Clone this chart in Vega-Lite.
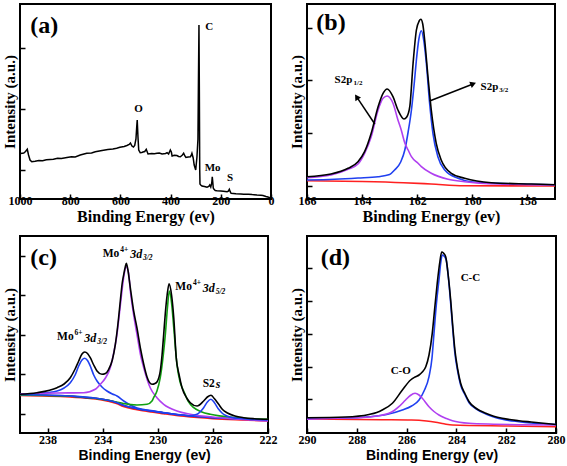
{
"$schema": "https://vega.github.io/schema/vega-lite/v6.json",
"background": "white",
"padding": {"left": 1, "top": 3, "right": 0, "bottom": 0},
"columns": 2,
"spacing": {"row": 10, "column": 10},
"config": {
  "view": {"stroke": "#000", "strokeWidth": 2},
  "axis": {"domain": false, "grid": false, "tickSize": -5, "tickWidth": 1.5, "tickColor": "#000", "format": "d",
    "labelFont": "Liberation Serif", "labelFontWeight": "bold", "labelFontSize": 12, "labelColor": "#000",
    "labelFlush": false, "labelOverlap": false, "labelPadding": 1,
    "titleFont": "Liberation Serif", "titleFontWeight": "bold", "titleFontSize": 15, "titleColor": "#000"},
  "axisX": {"titleFontSize": 16, "titlePadding": 2},
  "axisY": {"titlePadding": 2}
},
"datasets": {
"curves": [
{"p":"a","s":"Survey","x":998,"y":45.5},{"p":"a","s":"Survey","x":985,"y":46},{"p":"a","s":"Survey","x":978,"y":47.5},{"p":"a","s":"Survey","x":971,"y":49.7},{"p":"a","s":"Survey","x":966,"y":44},{"p":"a","s":"Survey","x":960,"y":39},{"p":"a","s":"Survey","x":953,"y":37.3},{"p":"a","s":"Survey","x":940,"y":37.8},{"p":"a","s":"Survey","x":925,"y":38.5},{"p":"a","s":"Survey","x":910,"y":38.2},{"p":"a","s":"Survey","x":895,"y":39.2},{"p":"a","s":"Survey","x":880,"y":39.5},{"p":"a","s":"Survey","x":867,"y":39.7},{"p":"a","s":"Survey","x":850,"y":40.8},{"p":"a","s":"Survey","x":835,"y":40.5},{"p":"a","s":"Survey","x":813,"y":41.5},{"p":"a","s":"Survey","x":795,"y":42.3},{"p":"a","s":"Survey","x":780,"y":42},{"p":"a","s":"Survey","x":760,"y":44},{"p":"a","s":"Survey","x":734,"y":45.7},{"p":"a","s":"Survey","x":715,"y":46},{"p":"a","s":"Survey","x":700,"y":47.2},{"p":"a","s":"Survey","x":673,"y":48.5},{"p":"a","s":"Survey","x":650,"y":49.5},{"p":"a","s":"Survey","x":630,"y":50},{"p":"a","s":"Survey","x":615,"y":50.8},{"p":"a","s":"Survey","x":602,"y":51.7},{"p":"a","s":"Survey","x":585,"y":52.5},{"p":"a","s":"Survey","x":574,"y":53.5},{"p":"a","s":"Survey","x":565,"y":54.5},{"p":"a","s":"Survey","x":560,"y":56},{"p":"a","s":"Survey","x":554,"y":53},{"p":"a","s":"Survey","x":548,"y":52},{"p":"a","s":"Survey","x":543,"y":53.5},{"p":"a","s":"Survey","x":538,"y":60},{"p":"a","s":"Survey","x":535,"y":72},{"p":"a","s":"Survey","x":533,"y":79},{"p":"a","s":"Survey","x":530,"y":62},{"p":"a","s":"Survey","x":527,"y":49},{"p":"a","s":"Survey","x":521,"y":46.3},{"p":"a","s":"Survey","x":515,"y":46.5},{"p":"a","s":"Survey","x":510,"y":47},{"p":"a","s":"Survey","x":503,"y":47.5},{"p":"a","s":"Survey","x":497,"y":49.7},{"p":"a","s":"Survey","x":490,"y":45},{"p":"a","s":"Survey","x":475,"y":45.5},{"p":"a","s":"Survey","x":465,"y":45.2},{"p":"a","s":"Survey","x":454,"y":45.7},{"p":"a","s":"Survey","x":445,"y":46},{"p":"a","s":"Survey","x":434,"y":45},{"p":"a","s":"Survey","x":420,"y":45.5},{"p":"a","s":"Survey","x":414,"y":46.3},{"p":"a","s":"Survey","x":408,"y":45},{"p":"a","s":"Survey","x":401,"y":49},{"p":"a","s":"Survey","x":397,"y":47},{"p":"a","s":"Survey","x":394,"y":43},{"p":"a","s":"Survey","x":385,"y":43.7},{"p":"a","s":"Survey","x":375,"y":43.5},{"p":"a","s":"Survey","x":368,"y":42.5},{"p":"a","s":"Survey","x":361,"y":42.3},{"p":"a","s":"Survey","x":353,"y":44},{"p":"a","s":"Survey","x":348,"y":45.7},{"p":"a","s":"Survey","x":343,"y":43},{"p":"a","s":"Survey","x":339,"y":41.5},{"p":"a","s":"Survey","x":330,"y":42},{"p":"a","s":"Survey","x":321,"y":42.3},{"p":"a","s":"Survey","x":318,"y":43.5},{"p":"a","s":"Survey","x":315,"y":45.7},{"p":"a","s":"Survey","x":310,"y":41},{"p":"a","s":"Survey","x":306,"y":34},{"p":"a","s":"Survey","x":300,"y":29},{"p":"a","s":"Survey","x":295,"y":42},{"p":"a","s":"Survey","x":291,"y":60},{"p":"a","s":"Survey","x":289,"y":120},{"p":"a","s":"Survey","x":287,"y":174},{"p":"a","s":"Survey","x":285.5,"y":110},{"p":"a","s":"Survey","x":284,"y":30},{"p":"a","s":"Survey","x":283,"y":15},{"p":"a","s":"Survey","x":280,"y":14},{"p":"a","s":"Survey","x":275,"y":13},{"p":"a","s":"Survey","x":265,"y":12.5},{"p":"a","s":"Survey","x":255,"y":11.7},{"p":"a","s":"Survey","x":248,"y":12.5},{"p":"a","s":"Survey","x":244,"y":14},{"p":"a","s":"Survey","x":240,"y":12},{"p":"a","s":"Survey","x":236,"y":16},{"p":"a","s":"Survey","x":234,"y":22.3},{"p":"a","s":"Survey","x":232,"y":17},{"p":"a","s":"Survey","x":230,"y":11},{"p":"a","s":"Survey","x":227,"y":9.7},{"p":"a","s":"Survey","x":222,"y":8.5},{"p":"a","s":"Survey","x":215,"y":8.3},{"p":"a","s":"Survey","x":200,"y":8},{"p":"a","s":"Survey","x":190,"y":7.8},{"p":"a","s":"Survey","x":175,"y":7.3},{"p":"a","s":"Survey","x":170,"y":7.8},{"p":"a","s":"Survey","x":166,"y":9.7},{"p":"a","s":"Survey","x":162,"y":7},{"p":"a","s":"Survey","x":159,"y":5.7},{"p":"a","s":"Survey","x":150,"y":5.5},{"p":"a","s":"Survey","x":140,"y":5.2},{"p":"a","s":"Survey","x":120,"y":5},{"p":"a","s":"Survey","x":109,"y":4.7},{"p":"a","s":"Survey","x":90,"y":4.8},{"p":"a","s":"Survey","x":75,"y":4.4},{"p":"a","s":"Survey","x":56,"y":4},{"p":"a","s":"Survey","x":40,"y":3.8},{"p":"a","s":"Survey","x":32,"y":3.5},{"p":"a","s":"Survey","x":20,"y":2.5},{"p":"a","s":"Survey","x":9,"y":1.7},{"p":"a","s":"Survey","x":3,"y":1.5},

{"p":"b","s":"Background","x":166,"y":18.3},{"p":"b","s":"Background","x":164,"y":17.5},{"p":"b","s":"Background","x":162.5,"y":16.3},{"p":"b","s":"Background","x":161.5,"y":15},{"p":"b","s":"Background","x":160.3,"y":13.3},{"p":"b","s":"Background","x":157,"y":13},
{"p":"b","s":"S 2p3/2","x":166,"y":19},{"p":"b","s":"S 2p3/2","x":165,"y":19.8},{"p":"b","s":"S 2p3/2","x":164.15,"y":21},{"p":"b","s":"S 2p3/2","x":163.42,"y":22.3},{"p":"b","s":"S 2p3/2","x":163.0,"y":24.5},{"p":"b","s":"S 2p3/2","x":162.82,"y":29},{"p":"b","s":"S 2p3/2","x":162.6,"y":37},{"p":"b","s":"S 2p3/2","x":162.45,"y":49},{"p":"b","s":"S 2p3/2","x":162.33,"y":67},{"p":"b","s":"S 2p3/2","x":162.21,"y":89},{"p":"b","s":"S 2p3/2","x":162.1,"y":118},{"p":"b","s":"S 2p3/2","x":162.03,"y":139},{"p":"b","s":"S 2p3/2","x":161.94,"y":160},{"p":"b","s":"S 2p3/2","x":161.85,"y":168.3},{"p":"b","s":"S 2p3/2","x":161.76,"y":158},{"p":"b","s":"S 2p3/2","x":161.67,"y":136},{"p":"b","s":"S 2p3/2","x":161.55,"y":95.7},{"p":"b","s":"S 2p3/2","x":161.43,"y":65.7},{"p":"b","s":"S 2p3/2","x":161.25,"y":42.3},{"p":"b","s":"S 2p3/2","x":161.0,"y":29},{"p":"b","s":"S 2p3/2","x":160.52,"y":20.7},{"p":"b","s":"S 2p3/2","x":160.05,"y":17.3},{"p":"b","s":"S 2p3/2","x":159.07,"y":15.7},{"p":"b","s":"S 2p3/2","x":158,"y":14.8},{"p":"b","s":"S 2p3/2","x":157,"y":14.3},
{"p":"b","s":"S 2p1/2","x":166,"y":21.3},{"p":"b","s":"S 2p1/2","x":165.13,"y":24},{"p":"b","s":"S 2p1/2","x":164.51,"y":29.7},{"p":"b","s":"S 2p1/2","x":164.15,"y":35},{"p":"b","s":"S 2p1/2","x":163.91,"y":45.7},{"p":"b","s":"S 2p1/2","x":163.67,"y":62.3},{"p":"b","s":"S 2p1/2","x":163.42,"y":89},{"p":"b","s":"S 2p1/2","x":163.24,"y":100.7},{"p":"b","s":"S 2p1/2","x":163.09,"y":103},{"p":"b","s":"S 2p1/2","x":162.88,"y":95.7},{"p":"b","s":"S 2p1/2","x":162.7,"y":79},{"p":"b","s":"S 2p1/2","x":162.58,"y":69},{"p":"b","s":"S 2p1/2","x":162.45,"y":56},{"p":"b","s":"S 2p1/2","x":162.33,"y":49},{"p":"b","s":"S 2p1/2","x":162.21,"y":42.3},{"p":"b","s":"S 2p1/2","x":161.97,"y":35.7},{"p":"b","s":"S 2p1/2","x":161.85,"y":32.3},{"p":"b","s":"S 2p1/2","x":161.49,"y":25.7},{"p":"b","s":"S 2p1/2","x":160.88,"y":19.7},{"p":"b","s":"S 2p1/2","x":160.28,"y":17.3},{"p":"b","s":"S 2p1/2","x":159.07,"y":15},{"p":"b","s":"S 2p1/2","x":157,"y":14},
{"p":"b","s":"Envelope","x":166,"y":22.3},{"p":"b","s":"Envelope","x":165.13,"y":25},{"p":"b","s":"Envelope","x":164.51,"y":30.7},{"p":"b","s":"Envelope","x":164.15,"y":37.3},{"p":"b","s":"Envelope","x":163.91,"y":47.3},{"p":"b","s":"Envelope","x":163.67,"y":65.7},{"p":"b","s":"Envelope","x":163.42,"y":92.3},{"p":"b","s":"Envelope","x":163.24,"y":105.7},{"p":"b","s":"Envelope","x":163.09,"y":110},{"p":"b","s":"Envelope","x":162.88,"y":102.3},{"p":"b","s":"Envelope","x":162.7,"y":89},{"p":"b","s":"Envelope","x":162.48,"y":80},{"p":"b","s":"Envelope","x":162.38,"y":82},{"p":"b","s":"Envelope","x":162.27,"y":92.3},{"p":"b","s":"Envelope","x":162.15,"y":135.7},{"p":"b","s":"Envelope","x":162.03,"y":169},{"p":"b","s":"Envelope","x":161.93,"y":178},{"p":"b","s":"Envelope","x":161.87,"y":179.7},{"p":"b","s":"Envelope","x":161.8,"y":175},{"p":"b","s":"Envelope","x":161.73,"y":159},{"p":"b","s":"Envelope","x":161.61,"y":122.3},{"p":"b","s":"Envelope","x":161.49,"y":89},{"p":"b","s":"Envelope","x":161.31,"y":55.7},{"p":"b","s":"Envelope","x":161.13,"y":39},{"p":"b","s":"Envelope","x":160.76,"y":25.7},{"p":"b","s":"Envelope","x":160.28,"y":20.7},{"p":"b","s":"Envelope","x":159.31,"y":16.3},{"p":"b","s":"Envelope","x":157.86,"y":15},{"p":"b","s":"Envelope","x":157,"y":14.3},

{"p":"c","s":"Background","x":240,"y":37.5},{"p":"c","s":"Background","x":236.4,"y":36},{"p":"c","s":"Background","x":234.5,"y":34},{"p":"c","s":"Background","x":233.7,"y":32},{"p":"c","s":"Background","x":233,"y":29.5},{"p":"c","s":"Background","x":232.5,"y":26.5},{"p":"c","s":"Background","x":231.5,"y":23.3},{"p":"c","s":"Background","x":230.5,"y":21},{"p":"c","s":"Background","x":229.6,"y":19.3},{"p":"c","s":"Background","x":228.1,"y":16.7},{"p":"c","s":"Background","x":226,"y":14.3},{"p":"c","s":"Background","x":224,"y":13},{"p":"c","s":"Background","x":222,"y":12},
{"p":"c","s":"Baseline","x":240,"y":38.5},{"p":"c","s":"Baseline","x":238.8,"y":38},{"p":"c","s":"Baseline","x":236.4,"y":37},{"p":"c","s":"Baseline","x":235.4,"y":35.5},{"p":"c","s":"Baseline","x":234.5,"y":34.8},{"p":"c","s":"Baseline","x":233.7,"y":33},{"p":"c","s":"Baseline","x":233,"y":30.5},{"p":"c","s":"Baseline","x":232.5,"y":27.7},{"p":"c","s":"Baseline","x":231.5,"y":24.3},{"p":"c","s":"Baseline","x":230.5,"y":22},{"p":"c","s":"Baseline","x":229.6,"y":20.3},{"p":"c","s":"Baseline","x":228.1,"y":17.7},{"p":"c","s":"Baseline","x":226,"y":15.3},{"p":"c","s":"Baseline","x":224,"y":14},{"p":"c","s":"Baseline","x":222,"y":13},
{"p":"c","s":"Mo6+ 3d3/2","x":240,"y":38.5},{"p":"c","s":"Mo6+ 3d3/2","x":238.77,"y":39.5},{"p":"c","s":"Mo6+ 3d3/2","x":237.31,"y":42},{"p":"c","s":"Mo6+ 3d3/2","x":236.8,"y":45},{"p":"c","s":"Mo6+ 3d3/2","x":236.35,"y":50.3},{"p":"c","s":"Mo6+ 3d3/2","x":236.0,"y":58},{"p":"c","s":"Mo6+ 3d3/2","x":235.74,"y":67},{"p":"c","s":"Mo6+ 3d3/2","x":235.5,"y":73},{"p":"c","s":"Mo6+ 3d3/2","x":235.3,"y":74.7},{"p":"c","s":"Mo6+ 3d3/2","x":235.1,"y":72.5},{"p":"c","s":"Mo6+ 3d3/2","x":234.9,"y":67},{"p":"c","s":"Mo6+ 3d3/2","x":234.65,"y":58},{"p":"c","s":"Mo6+ 3d3/2","x":234.41,"y":52},{"p":"c","s":"Mo6+ 3d3/2","x":234.05,"y":46},{"p":"c","s":"Mo6+ 3d3/2","x":233.69,"y":42},{"p":"c","s":"Mo6+ 3d3/2","x":233.3,"y":39},{"p":"c","s":"Mo6+ 3d3/2","x":232.96,"y":37},{"p":"c","s":"Mo6+ 3d3/2","x":232.47,"y":32},{"p":"c","s":"Mo6+ 3d3/2","x":232.0,"y":28},{"p":"c","s":"Mo6+ 3d3/2","x":231.5,"y":25},{"p":"c","s":"Mo6+ 3d3/2","x":230.5,"y":22.4},{"p":"c","s":"Mo6+ 3d3/2","x":229.6,"y":20.5},{"p":"c","s":"Mo6+ 3d3/2","x":228.1,"y":17.7},{"p":"c","s":"Mo6+ 3d3/2","x":226,"y":15.3},{"p":"c","s":"Mo6+ 3d3/2","x":224,"y":14},{"p":"c","s":"Mo6+ 3d3/2","x":222,"y":13},
{"p":"c","s":"Mo4+ 3d3/2","x":240,"y":39},{"p":"c","s":"Mo4+ 3d3/2","x":237.31,"y":40},{"p":"c","s":"Mo4+ 3d3/2","x":235.38,"y":40.3},{"p":"c","s":"Mo4+ 3d3/2","x":234.5,"y":44},{"p":"c","s":"Mo4+ 3d3/2","x":234.17,"y":48.7},{"p":"c","s":"Mo4+ 3d3/2","x":233.8,"y":55},{"p":"c","s":"Mo4+ 3d3/2","x":233.45,"y":65.3},{"p":"c","s":"Mo4+ 3d3/2","x":233.2,"y":80},{"p":"c","s":"Mo4+ 3d3/2","x":232.96,"y":98.7},{"p":"c","s":"Mo4+ 3d3/2","x":232.78,"y":120},{"p":"c","s":"Mo4+ 3d3/2","x":232.6,"y":142},{"p":"c","s":"Mo4+ 3d3/2","x":232.45,"y":158},{"p":"c","s":"Mo4+ 3d3/2","x":232.28,"y":166},{"p":"c","s":"Mo4+ 3d3/2","x":232.12,"y":160},{"p":"c","s":"Mo4+ 3d3/2","x":231.99,"y":142},{"p":"c","s":"Mo4+ 3d3/2","x":231.75,"y":118},{"p":"c","s":"Mo4+ 3d3/2","x":231.51,"y":98.7},{"p":"c","s":"Mo4+ 3d3/2","x":231.25,"y":78},{"p":"c","s":"Mo4+ 3d3/2","x":231.02,"y":65.3},{"p":"c","s":"Mo4+ 3d3/2","x":230.54,"y":45},{"p":"c","s":"Mo4+ 3d3/2","x":230.06,"y":35.3},{"p":"c","s":"Mo4+ 3d3/2","x":229.57,"y":28.7},{"p":"c","s":"Mo4+ 3d3/2","x":228.61,"y":22},{"p":"c","s":"Mo4+ 3d3/2","x":227.64,"y":18.7},{"p":"c","s":"Mo4+ 3d3/2","x":225.46,"y":15.3},{"p":"c","s":"Mo4+ 3d3/2","x":222,"y":12},
{"p":"c","s":"Mo4+ 3d5/2","x":240,"y":38},{"p":"c","s":"Mo4+ 3d5/2","x":236,"y":36.5},{"p":"c","s":"Mo4+ 3d5/2","x":234.5,"y":34.5},{"p":"c","s":"Mo4+ 3d5/2","x":233.7,"y":33},{"p":"c","s":"Mo4+ 3d5/2","x":233,"y":31},{"p":"c","s":"Mo4+ 3d5/2","x":232.5,"y":29.5},{"p":"c","s":"Mo4+ 3d5/2","x":231.51,"y":28},{"p":"c","s":"Mo4+ 3d5/2","x":230.78,"y":28.7},{"p":"c","s":"Mo4+ 3d5/2","x":230.42,"y":32},{"p":"c","s":"Mo4+ 3d5/2","x":230.3,"y":35.3},{"p":"c","s":"Mo4+ 3d5/2","x":230.06,"y":42},{"p":"c","s":"Mo4+ 3d5/2","x":229.82,"y":55.3},{"p":"c","s":"Mo4+ 3d5/2","x":229.6,"y":78},{"p":"c","s":"Mo4+ 3d5/2","x":229.45,"y":98.7},{"p":"c","s":"Mo4+ 3d5/2","x":229.3,"y":125},{"p":"c","s":"Mo4+ 3d5/2","x":229.16,"y":142},{"p":"c","s":"Mo4+ 3d5/2","x":229.0,"y":130},{"p":"c","s":"Mo4+ 3d5/2","x":228.84,"y":105.3},{"p":"c","s":"Mo4+ 3d5/2","x":228.61,"y":68.7},{"p":"c","s":"Mo4+ 3d5/2","x":228.4,"y":52},{"p":"c","s":"Mo4+ 3d5/2","x":228.12,"y":42},{"p":"c","s":"Mo4+ 3d5/2","x":227.8,"y":32},{"p":"c","s":"Mo4+ 3d5/2","x":227.39,"y":25.3},{"p":"c","s":"Mo4+ 3d5/2","x":226.8,"y":21},{"p":"c","s":"Mo4+ 3d5/2","x":226.19,"y":18.7},{"p":"c","s":"Mo4+ 3d5/2","x":224.25,"y":15.3},{"p":"c","s":"Mo4+ 3d5/2","x":222,"y":13.7},
{"p":"c","s":"S 2s","x":240,"y":38.5},{"p":"c","s":"S 2s","x":236.4,"y":37},{"p":"c","s":"S 2s","x":234.5,"y":34.8},{"p":"c","s":"S 2s","x":233.7,"y":33},{"p":"c","s":"S 2s","x":233,"y":30.5},{"p":"c","s":"S 2s","x":232.5,"y":27.7},{"p":"c","s":"S 2s","x":231.5,"y":24.3},{"p":"c","s":"S 2s","x":230.5,"y":22},{"p":"c","s":"S 2s","x":229.6,"y":20.3},{"p":"c","s":"S 2s","x":228.1,"y":17.7},{"p":"c","s":"S 2s","x":227.64,"y":17.3},{"p":"c","s":"S 2s","x":227.15,"y":18.7},{"p":"c","s":"S 2s","x":226.9,"y":21.5},{"p":"c","s":"S 2s","x":226.67,"y":25.3},{"p":"c","s":"S 2s","x":226.4,"y":31},{"p":"c","s":"S 2s","x":226.14,"y":33.7},{"p":"c","s":"S 2s","x":225.9,"y":30.5},{"p":"c","s":"S 2s","x":225.58,"y":23.7},{"p":"c","s":"S 2s","x":225.3,"y":19.5},{"p":"c","s":"S 2s","x":224.98,"y":17},{"p":"c","s":"S 2s","x":224.25,"y":14.7},{"p":"c","s":"S 2s","x":223,"y":13.5},{"p":"c","s":"S 2s","x":222,"y":13},
{"p":"c","s":"Envelope","x":240,"y":38.7},{"p":"c","s":"Envelope","x":238.77,"y":40.3},{"p":"c","s":"Envelope","x":237.31,"y":45.3},{"p":"c","s":"Envelope","x":236.8,"y":49},{"p":"c","s":"Envelope","x":236.35,"y":55.3},{"p":"c","s":"Envelope","x":236.0,"y":64},{"p":"c","s":"Envelope","x":235.74,"y":72},{"p":"c","s":"Envelope","x":235.5,"y":79},{"p":"c","s":"Envelope","x":235.3,"y":81},{"p":"c","s":"Envelope","x":235.1,"y":79.5},{"p":"c","s":"Envelope","x":234.9,"y":75.3},{"p":"c","s":"Envelope","x":234.65,"y":68},{"p":"c","s":"Envelope","x":234.41,"y":62},{"p":"c","s":"Envelope","x":234.05,"y":58.7},{"p":"c","s":"Envelope","x":233.8,"y":59.5},{"p":"c","s":"Envelope","x":233.56,"y":63.7},{"p":"c","s":"Envelope","x":233.3,"y":73},{"p":"c","s":"Envelope","x":233.08,"y":88.7},{"p":"c","s":"Envelope","x":232.9,"y":108},{"p":"c","s":"Envelope","x":232.72,"y":132},{"p":"c","s":"Envelope","x":232.58,"y":150},{"p":"c","s":"Envelope","x":232.47,"y":158.7},{"p":"c","s":"Envelope","x":232.36,"y":166},{"p":"c","s":"Envelope","x":232.28,"y":169.7},{"p":"c","s":"Envelope","x":232.18,"y":164},{"p":"c","s":"Envelope","x":231.99,"y":145},{"p":"c","s":"Envelope","x":231.75,"y":122},{"p":"c","s":"Envelope","x":231.51,"y":105},{"p":"c","s":"Envelope","x":231.25,"y":84},{"p":"c","s":"Envelope","x":231.02,"y":68.7},{"p":"c","s":"Envelope","x":230.78,"y":56},{"p":"c","s":"Envelope","x":230.42,"y":48.7},{"p":"c","s":"Envelope","x":230.2,"y":49.5},{"p":"c","s":"Envelope","x":230.06,"y":51},{"p":"c","s":"Envelope","x":229.82,"y":62},{"p":"c","s":"Envelope","x":229.69,"y":78},{"p":"c","s":"Envelope","x":229.57,"y":98.7},{"p":"c","s":"Envelope","x":229.45,"y":120.3},{"p":"c","s":"Envelope","x":229.32,"y":138},{"p":"c","s":"Envelope","x":229.18,"y":149.3},{"p":"c","s":"Envelope","x":229.0,"y":138},{"p":"c","s":"Envelope","x":228.84,"y":115.3},{"p":"c","s":"Envelope","x":228.66,"y":75.3},{"p":"c","s":"Envelope","x":228.45,"y":58},{"p":"c","s":"Envelope","x":228.24,"y":45.3},{"p":"c","s":"Envelope","x":227.9,"y":35},{"p":"c","s":"Envelope","x":227.64,"y":30.3},{"p":"c","s":"Envelope","x":227.15,"y":27},{"p":"c","s":"Envelope","x":226.67,"y":32},{"p":"c","s":"Envelope","x":226.4,"y":36},{"p":"c","s":"Envelope","x":226.14,"y":37.7},{"p":"c","s":"Envelope","x":225.9,"y":34.5},{"p":"c","s":"Envelope","x":225.58,"y":28.7},{"p":"c","s":"Envelope","x":225.3,"y":23.5},{"p":"c","s":"Envelope","x":224.98,"y":20.3},{"p":"c","s":"Envelope","x":224.4,"y":17},{"p":"c","s":"Envelope","x":223.76,"y":15.3},{"p":"c","s":"Envelope","x":223,"y":14.3},{"p":"c","s":"Envelope","x":222,"y":13.7},

{"p":"d","s":"Background","x":290,"y":14},{"p":"d","s":"Background","x":287,"y":13.3},{"p":"d","s":"Background","x":285.8,"y":13},{"p":"d","s":"Background","x":285.2,"y":12},{"p":"d","s":"Background","x":284.83,"y":10.7},{"p":"d","s":"Background","x":284.5,"y":9.2},{"p":"d","s":"Background","x":284.16,"y":8},{"p":"d","s":"Background","x":282,"y":7},{"p":"d","s":"Background","x":280,"y":6.3},
{"p":"d","s":"C-C","x":290,"y":14.7},{"p":"d","s":"C-C","x":288.45,"y":15},{"p":"d","s":"C-C","x":287.51,"y":16.3},{"p":"d","s":"C-C","x":286.8,"y":18.5},{"p":"d","s":"C-C","x":286.17,"y":23},{"p":"d","s":"C-C","x":285.8,"y":27},{"p":"d","s":"C-C","x":285.5,"y":33},{"p":"d","s":"C-C","x":285.3,"y":42},{"p":"d","s":"C-C","x":285.1,"y":56.3},{"p":"d","s":"C-C","x":284.98,"y":75},{"p":"d","s":"C-C","x":284.9,"y":99.7},{"p":"d","s":"C-C","x":284.8,"y":130},{"p":"d","s":"C-C","x":284.7,"y":153},{"p":"d","s":"C-C","x":284.63,"y":170},{"p":"d","s":"C-C","x":284.57,"y":178},{"p":"d","s":"C-C","x":284.5,"y":177},{"p":"d","s":"C-C","x":284.41,"y":173},{"p":"d","s":"C-C","x":284.32,"y":155},{"p":"d","s":"C-C","x":284.23,"y":129.7},{"p":"d","s":"C-C","x":284.15,"y":105},{"p":"d","s":"C-C","x":284.06,"y":79.7},{"p":"d","s":"C-C","x":283.95,"y":62},{"p":"d","s":"C-C","x":283.83,"y":48},{"p":"d","s":"C-C","x":283.65,"y":38},{"p":"d","s":"C-C","x":283.49,"y":30.3},{"p":"d","s":"C-C","x":283.2,"y":24},{"p":"d","s":"C-C","x":282.82,"y":19},{"p":"d","s":"C-C","x":282.5,"y":16},{"p":"d","s":"C-C","x":282.16,"y":13.7},{"p":"d","s":"C-C","x":281.49,"y":11.3},{"p":"d","s":"C-C","x":281,"y":10},{"p":"d","s":"C-C","x":280,"y":8.5},
{"p":"d","s":"C-O","x":290,"y":13.7},{"p":"d","s":"C-O","x":288.45,"y":15},{"p":"d","s":"C-O","x":287.51,"y":16},{"p":"d","s":"C-O","x":287.0,"y":17.8},{"p":"d","s":"C-O","x":286.71,"y":19.7},{"p":"d","s":"C-O","x":286.5,"y":22.5},{"p":"d","s":"C-O","x":286.31,"y":26.3},{"p":"d","s":"C-O","x":286.04,"y":33},{"p":"d","s":"C-O","x":285.85,"y":37.5},{"p":"d","s":"C-O","x":285.66,"y":39.7},{"p":"d","s":"C-O","x":285.5,"y":38},{"p":"d","s":"C-O","x":285.37,"y":34.7},{"p":"d","s":"C-O","x":285.1,"y":26.3},{"p":"d","s":"C-O","x":284.9,"y":21.5},{"p":"d","s":"C-O","x":284.7,"y":18},{"p":"d","s":"C-O","x":284.4,"y":14.5},{"p":"d","s":"C-O","x":284.16,"y":12.3},{"p":"d","s":"C-O","x":283.49,"y":9.7},{"p":"d","s":"C-O","x":282.5,"y":8.8},{"p":"d","s":"C-O","x":281.49,"y":8.3},{"p":"d","s":"C-O","x":280,"y":8},
{"p":"d","s":"Envelope","x":290,"y":15.3},{"p":"d","s":"Envelope","x":288.45,"y":16},{"p":"d","s":"Envelope","x":287.51,"y":18.5},{"p":"d","s":"Envelope","x":287.2,"y":20.5},{"p":"d","s":"Envelope","x":286.98,"y":23},{"p":"d","s":"Envelope","x":286.57,"y":29.7},{"p":"d","s":"Envelope","x":286.17,"y":43},{"p":"d","s":"Envelope","x":285.84,"y":53},{"p":"d","s":"Envelope","x":285.66,"y":56},{"p":"d","s":"Envelope","x":285.5,"y":58},{"p":"d","s":"Envelope","x":285.37,"y":61},{"p":"d","s":"Envelope","x":285.23,"y":66.3},{"p":"d","s":"Envelope","x":285.1,"y":78},{"p":"d","s":"Envelope","x":284.97,"y":99.7},{"p":"d","s":"Envelope","x":284.87,"y":125},{"p":"d","s":"Envelope","x":284.77,"y":149.7},{"p":"d","s":"Envelope","x":284.66,"y":172},{"p":"d","s":"Envelope","x":284.59,"y":181},{"p":"d","s":"Envelope","x":284.52,"y":180},{"p":"d","s":"Envelope","x":284.43,"y":176.3},{"p":"d","s":"Envelope","x":284.33,"y":158},{"p":"d","s":"Envelope","x":284.23,"y":133},{"p":"d","s":"Envelope","x":284.15,"y":108},{"p":"d","s":"Envelope","x":284.06,"y":83},{"p":"d","s":"Envelope","x":283.95,"y":64},{"p":"d","s":"Envelope","x":283.83,"y":49.7},{"p":"d","s":"Envelope","x":283.65,"y":39},{"p":"d","s":"Envelope","x":283.49,"y":31.3},{"p":"d","s":"Envelope","x":283.2,"y":24.5},{"p":"d","s":"Envelope","x":282.82,"y":19.7},{"p":"d","s":"Envelope","x":282.5,"y":16.8},{"p":"d","s":"Envelope","x":282.16,"y":14.7},{"p":"d","s":"Envelope","x":281.49,"y":12.3},{"p":"d","s":"Envelope","x":281,"y":11},{"p":"d","s":"Envelope","x":280,"y":8.5}
],
"labels": [
{"p":"a","r":"panel","x":959,"y":173,"t":"(a)"},
{"p":"a","r":"main","x":545,"y":90,"t":"O"},
{"p":"a","r":"main","x":262,"y":172,"t":"C"},
{"p":"a","r":"main","x":264,"y":30.7,"t":"Mo"},
{"p":"a","r":"main","x":175,"y":21.3,"t":"S"},
{"p":"b","r":"panel","x":165.66,"y":176,"t":"(b)"},
{"p":"b","r":"main","x":165.0,"y":119,"t":"S2p"},
{"p":"b","r":"small","x":164.31,"y":116.5,"t":"1/2"},
{"p":"b","r":"main","x":159.7,"y":111.7,"t":"S2p"},
{"p":"b","r":"small","x":159.02,"y":109,"t":"3/2"},
{"p":"c","r":"panel","x":239.25,"y":175,"t":"(c)"},
{"p":"c","r":"main","x":234.0,"y":179.3,"t":"Mo"},
{"p":"c","r":"small","x":232.72,"y":182.7,"t":"4+"},
{"p":"c","r":"ital","x":232.0,"y":178.7,"t":"3d"},
{"p":"c","r":"smallital","x":231.07,"y":175.3,"t":"3/2"},
{"p":"c","r":"main","x":228.73,"y":146.3,"t":"Mo"},
{"p":"c","r":"small","x":227.45,"y":149.7,"t":"4+"},
{"p":"c","r":"ital","x":226.74,"y":145.3,"t":"3d"},
{"p":"c","r":"smallital","x":225.8,"y":141,"t":"5/2"},
{"p":"c","r":"main","x":237.31,"y":96.3,"t":"Mo"},
{"p":"c","r":"small","x":236.04,"y":99.7,"t":"6+"},
{"p":"c","r":"ital","x":235.33,"y":95.3,"t":"3d"},
{"p":"c","r":"smallital","x":234.39,"y":91,"t":"3/2"},
{"p":"c","r":"main","x":226.74,"y":48.7,"t":"S2"},
{"p":"c","r":"ital","x":225.8,"y":48.7,"t":"s"},
{"p":"d","r":"panel","x":289.45,"y":175,"t":"(d)"},
{"p":"d","r":"main","x":283.83,"y":154.7,"t":"C-C"},
{"p":"d","r":"main","x":286.64,"y":62.3,"t":"C-O"}
],
"arrows": [
{"id":"a1","x":163.54,"y":75,"x2":164.18,"y2":101.3},
{"id":"a2","x":161.55,"y":98,"x2":160.0,"y2":114.8}
]
},
"concat": [
{
 "width": 251, "height": 195,
 "layer": [
  {"data": {"name": "curves"}, "transform": [{"filter": "datum.p === 'a'"}],
   "mark": {"type": "line", "strokeWidth": 1.5},
   "encoding": {
    "x": {"field": "x", "type": "quantitative", "scale": {"domain": [0, 1000], "reverse": true, "nice": false, "zero": false}, "axis": {"values": [1000, 800, 600, 400, 200, 0], "title": "Binding Energy (ev)"}},
    "y": {"field": "y", "type": "quantitative", "scale": {"domain": [0, 195], "nice": false, "zero": false}, "axis": {"values": [29, 60, 90, 121, 151, 182], "labels": false, "title": "Intensity (a.u.)"}},
    "color": {"field": "s", "type": "nominal", "legend": null, "scale": {"domain": ["Survey","Envelope","Background","Baseline","S 2p3/2","S 2p1/2","Mo6+ 3d3/2","Mo4+ 3d3/2","Mo4+ 3d5/2","S 2s","C-C","C-O"], "range": ["#000000","#000000","#ff2020","#181880","#2040f0","#b040f0","#2040f0","#b040f0","#12a012","#2040f0","#2040f0","#b040f0"]}},
    "order": {"field": "x", "sort": "descending"}
   }},
  {"data": {"name": "labels"}, "transform": [{"filter": "datum.p === 'a' && datum.r === 'panel'"}],
   "mark": {"type": "text", "font": "Liberation Serif", "fontWeight": "bold", "fontSize": 24, "align": "left", "baseline": "middle", "color": "#000"},
   "encoding": {"x": {"field": "x", "type": "quantitative"}, "y": {"field": "y", "type": "quantitative"}, "text": {"field": "t", "type": "nominal"}}},
  {"data": {"name": "labels"}, "transform": [{"filter": "datum.p === 'a' && datum.r === 'main'"}],
   "mark": {"type": "text", "font": "Liberation Serif", "fontWeight": "bold", "fontSize": 11, "align": "left", "baseline": "middle", "color": "#000"},
   "encoding": {"x": {"field": "x", "type": "quantitative"}, "y": {"field": "y", "type": "quantitative"}, "text": {"field": "t", "type": "nominal"}}}
 ]
},
{
 "width": 248, "height": 195,
 "layer": [
  {"data": {"name": "curves"}, "transform": [{"filter": "datum.p === 'b'"}],
   "mark": {"type": "line", "strokeWidth": 1.6, "interpolate": "monotone"},
   "encoding": {
    "x": {"field": "x", "type": "quantitative", "scale": {"domain": [157, 166], "reverse": true, "nice": false, "zero": false}, "axis": {"values": [166, 164, 162, 160, 158], "title": "Binding Energy (ev)"}},
    "y": {"field": "y", "type": "quantitative", "scale": {"domain": [0, 195], "nice": false, "zero": false}, "axis": {"values": [13, 40, 66, 92, 119, 145, 171], "labels": false, "title": "Intensity (a.u.)"}},
    "color": {"field": "s", "type": "nominal", "legend": null, "scale": {"domain": ["Survey","Envelope","Background","Baseline","S 2p3/2","S 2p1/2","Mo6+ 3d3/2","Mo4+ 3d3/2","Mo4+ 3d5/2","S 2s","C-C","C-O"], "range": ["#000000","#000000","#ff2020","#181880","#2040f0","#b040f0","#2040f0","#b040f0","#12a012","#2040f0","#2040f0","#b040f0"]}},
    "order": {"field": "x", "sort": "descending"}
   }},
  {"data": {"name": "arrows"},
   "mark": {"type": "rule", "strokeWidth": 1.5, "color": "#000"},
   "encoding": {"x": {"field": "x", "type": "quantitative"}, "y": {"field": "y", "type": "quantitative"}, "x2": {"field": "x2"}, "y2": {"field": "y2"}}},
  {"data": {"name": "arrows"}, "transform": [{"filter": "datum.id === 'a1'"}],
   "mark": {"type": "point", "shape": "triangle", "filled": true, "color": "#000", "opacity": 1, "size": 45, "angle": 327},
   "encoding": {"x": {"field": "x2", "type": "quantitative"}, "y": {"field": "y2", "type": "quantitative"}}},
  {"data": {"name": "arrows"}, "transform": [{"filter": "datum.id === 'a2'"}],
   "mark": {"type": "point", "shape": "triangle", "filled": true, "color": "#000", "opacity": 1, "size": 45, "angle": 68},
   "encoding": {"x": {"field": "x2", "type": "quantitative"}, "y": {"field": "y2", "type": "quantitative"}}},
  {"data": {"name": "labels"}, "transform": [{"filter": "datum.p === 'b' && datum.r === 'panel'"}],
   "mark": {"type": "text", "font": "Liberation Serif", "fontWeight": "bold", "fontSize": 24, "align": "left", "baseline": "middle", "color": "#000"},
   "encoding": {"x": {"field": "x", "type": "quantitative"}, "y": {"field": "y", "type": "quantitative"}, "text": {"field": "t", "type": "nominal"}}},
  {"data": {"name": "labels"}, "transform": [{"filter": "datum.p === 'b' && datum.r === 'main'"}],
   "mark": {"type": "text", "font": "Liberation Serif", "fontWeight": "bold", "fontSize": 11, "align": "left", "baseline": "middle", "color": "#000"},
   "encoding": {"x": {"field": "x", "type": "quantitative"}, "y": {"field": "y", "type": "quantitative"}, "text": {"field": "t", "type": "nominal"}}},
  {"data": {"name": "labels"}, "transform": [{"filter": "datum.p === 'b' && datum.r === 'small'"}],
   "mark": {"type": "text", "font": "Liberation Serif", "fontWeight": "bold", "fontSize": 7, "align": "left", "baseline": "middle", "color": "#000"},
   "encoding": {"x": {"field": "x", "type": "quantitative"}, "y": {"field": "y", "type": "quantitative"}, "text": {"field": "t", "type": "nominal"}}}
 ]
},
{
 "width": 248, "height": 197,
 "layer": [
  {"data": {"name": "curves"}, "transform": [{"filter": "datum.p === 'c'"}],
   "mark": {"type": "line", "strokeWidth": 1.6, "interpolate": "monotone"},
   "encoding": {
    "x": {"field": "x", "type": "quantitative", "scale": {"domain": [222, 240], "reverse": true, "nice": false, "zero": false}, "axis": {"values": [240, 238, 236, 234, 232, 230, 228, 226, 224, 222], "title": "Binding Energy (ev)", "titleFont": "Liberation Sans", "titleFontSize": 14, "labelPadding": 6, "titlePadding": 3}},
    "y": {"field": "y", "type": "quantitative", "scale": {"domain": [0, 197], "nice": false, "zero": false}, "axis": {"values": [19, 59, 98, 138, 177], "labels": false, "title": "Intensity (a.u.)"}},
    "color": {"field": "s", "type": "nominal", "legend": null, "scale": {"domain": ["Survey","Envelope","Background","Baseline","S 2p3/2","S 2p1/2","Mo6+ 3d3/2","Mo4+ 3d3/2","Mo4+ 3d5/2","S 2s","C-C","C-O"], "range": ["#000000","#000000","#ff2020","#181880","#2040f0","#b040f0","#2040f0","#b040f0","#12a012","#2040f0","#2040f0","#b040f0"]}},
    "order": {"field": "x", "sort": "descending"}
   }},
  {"data": {"name": "labels"}, "transform": [{"filter": "datum.p === 'c' && datum.r === 'panel'"}],
   "mark": {"type": "text", "font": "Liberation Serif", "fontWeight": "bold", "fontSize": 24, "align": "left", "baseline": "middle", "color": "#000"},
   "encoding": {"x": {"field": "x", "type": "quantitative"}, "y": {"field": "y", "type": "quantitative"}, "text": {"field": "t", "type": "nominal"}}},
  {"data": {"name": "labels"}, "transform": [{"filter": "datum.p === 'c' && datum.r === 'main'"}],
   "mark": {"type": "text", "font": "Liberation Serif", "fontWeight": "bold", "fontSize": 11.5, "align": "left", "baseline": "middle", "color": "#000"},
   "encoding": {"x": {"field": "x", "type": "quantitative"}, "y": {"field": "y", "type": "quantitative"}, "text": {"field": "t", "type": "nominal"}}},
  {"data": {"name": "labels"}, "transform": [{"filter": "datum.p === 'c' && datum.r === 'small'"}],
   "mark": {"type": "text", "font": "Liberation Serif", "fontWeight": "bold", "fontSize": 7.5, "align": "left", "baseline": "middle", "color": "#000"},
   "encoding": {"x": {"field": "x", "type": "quantitative"}, "y": {"field": "y", "type": "quantitative"}, "text": {"field": "t", "type": "nominal"}}},
  {"data": {"name": "labels"}, "transform": [{"filter": "datum.p === 'c' && datum.r === 'ital'"}],
   "mark": {"type": "text", "font": "Liberation Serif", "fontWeight": "bold", "fontStyle": "italic", "fontSize": 12, "align": "left", "baseline": "middle", "color": "#000"},
   "encoding": {"x": {"field": "x", "type": "quantitative"}, "y": {"field": "y", "type": "quantitative"}, "text": {"field": "t", "type": "nominal"}}},
  {"data": {"name": "labels"}, "transform": [{"filter": "datum.p === 'c' && datum.r === 'smallital'"}],
   "mark": {"type": "text", "font": "Liberation Serif", "fontWeight": "bold", "fontStyle": "italic", "fontSize": 7.5, "align": "left", "baseline": "middle", "color": "#000"},
   "encoding": {"x": {"field": "x", "type": "quantitative"}, "y": {"field": "y", "type": "quantitative"}, "text": {"field": "t", "type": "nominal"}}}
 ]
},
{
 "width": 249, "height": 197,
 "layer": [
  {"data": {"name": "curves"}, "transform": [{"filter": "datum.p === 'd'"}],
   "mark": {"type": "line", "strokeWidth": 1.6, "interpolate": "monotone"},
   "encoding": {
    "x": {"field": "x", "type": "quantitative", "scale": {"domain": [280, 290], "reverse": true, "nice": false, "zero": false}, "axis": {"values": [290, 288, 286, 284, 282, 280], "title": "Binding Energy (ev)", "titleFont": "Liberation Sans", "titleFontSize": 14, "labelPadding": 6, "titlePadding": 3}},
    "y": {"field": "y", "type": "quantitative", "scale": {"domain": [0, 197], "nice": false, "zero": false}, "axis": {"values": [34, 66, 99, 132, 165], "labels": false, "title": "Intensity (a.u.)"}},
    "color": {"field": "s", "type": "nominal", "legend": null, "scale": {"domain": ["Survey","Envelope","Background","Baseline","S 2p3/2","S 2p1/2","Mo6+ 3d3/2","Mo4+ 3d3/2","Mo4+ 3d5/2","S 2s","C-C","C-O"], "range": ["#000000","#000000","#ff2020","#181880","#2040f0","#b040f0","#2040f0","#b040f0","#12a012","#2040f0","#2040f0","#b040f0"]}},
    "order": {"field": "x", "sort": "descending"}
   }},
  {"data": {"name": "labels"}, "transform": [{"filter": "datum.p === 'd' && datum.r === 'panel'"}],
   "mark": {"type": "text", "font": "Liberation Serif", "fontWeight": "bold", "fontSize": 24, "align": "left", "baseline": "middle", "color": "#000"},
   "encoding": {"x": {"field": "x", "type": "quantitative"}, "y": {"field": "y", "type": "quantitative"}, "text": {"field": "t", "type": "nominal"}}},
  {"data": {"name": "labels"}, "transform": [{"filter": "datum.p === 'd' && datum.r === 'main'"}],
   "mark": {"type": "text", "font": "Liberation Serif", "fontWeight": "bold", "fontSize": 11, "align": "left", "baseline": "middle", "color": "#000"},
   "encoding": {"x": {"field": "x", "type": "quantitative"}, "y": {"field": "y", "type": "quantitative"}, "text": {"field": "t", "type": "nominal"}}}
 ]
}
]
}
